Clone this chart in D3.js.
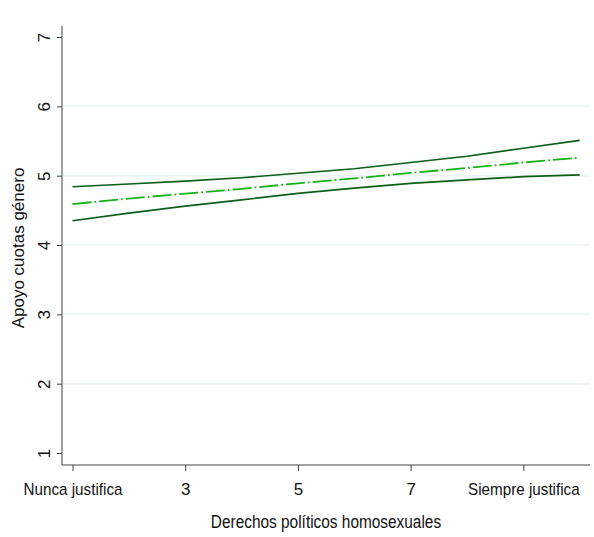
<!DOCTYPE html>
<html>
<head>
<meta charset="utf-8">
<script src="https://cdn.jsdelivr.net/npm/d3@7"></script>
<style>
  html, body { margin: 0; padding: 0; background: #fff; }
  svg { display: block; font-family: "Liberation Sans", Arial, sans-serif; }
</style>
</head>
<body>
<svg id="chart" width="594" height="537"></svg>
<script>
// Predicted support for gender quotas by attitude toward political rights of homosexuals
const xValues = [1, 2, 3, 4, 5, 6, 7, 8, 9, 10];
const predicted = [4.59, 4.67, 4.74, 4.81, 4.89, 4.96, 5.04, 5.11, 5.19, 5.26];
const upperCI = [4.84, 4.88, 4.92, 4.97, 5.035, 5.10, 5.19, 5.28, 5.395, 5.51];
const lowerCI = [4.35, 4.46, 4.56, 4.65, 4.745, 4.82, 4.89, 4.94, 4.985, 5.01];

const xTicks = [1, 3, 5, 7, 9];
const xTickLabels = ["Nunca justifica", "3", "5", "7", "Siempre justifica"];
const yTicks = [1, 2, 3, 4, 5, 6, 7];
const yGrid = [2, 3, 4, 5, 6];

const xTitle = "Derechos políticos homosexuales";
const yTitle = "Apoyo cuotas género";

const svg = d3.select("#chart");

const plot = { left: 62, right: 590, top: 26, bottom: 465 };

const x = d3.scaleLinear().domain([1, 10]).range([72.5, 579.7]);
const y = d3.scaleLinear().domain([1, 7]).range([453, 37]);

// grid lines
svg.append("g")
  .selectAll("line")
  .data(yGrid)
  .join("line")
  .attr("x1", plot.left + 1)
  .attr("x2", plot.right)
  .attr("y1", d => y(d))
  .attr("y2", d => y(d))
  .attr("stroke", "#eaf2f3")
  .attr("stroke-width", 1.5);

// y axis
const yAxis = svg.append("g")
  .attr("transform", `translate(${plot.left},0)`)
  .call(d3.axisLeft(y).tickValues(yTicks).tickSize(5).tickPadding(7).tickFormat(d3.format("d")));
yAxis.select(".domain").attr("d", `M0,${plot.top}V${plot.bottom}`).attr("stroke", "#444");
yAxis.selectAll(".tick line").attr("stroke", "#444");
yAxis.selectAll(".tick text")
  .attr("font-size", 17)
  .attr("fill", "#111")
  .attr("x", null).attr("dy", null)
  .attr("text-anchor", "middle")
  .attr("transform", "translate(-12,0) rotate(-90)");

// x axis
const xAxis = svg.append("g")
  .attr("transform", `translate(0,${plot.bottom})`)
  .call(d3.axisBottom(x).tickValues(xTicks).tickSize(6).tickPadding(8)
    .tickFormat((d, i) => xTickLabels[i]));
xAxis.select(".domain").attr("d", `M${plot.left},0H${plot.right}`).attr("stroke", "#444");
xAxis.selectAll(".tick line").attr("stroke", "#444");
xAxis.selectAll(".tick text")
  .attr("font-size", 17)
  .attr("fill", "#111")
  .attr("dy", null)
  .attr("y", 30)
  .each(function () {
    const w = this.getComputedTextLength();
    if (w > 20) {
      d3.select(this).attr("textLength", w * 0.895).attr("lengthAdjust", "spacingAndGlyphs");
    }
  });

// axis titles
const xt = svg.append("text")
  .attr("x", (plot.left + plot.right) / 2)
  .attr("y", 528)
  .attr("text-anchor", "middle")
  .attr("font-size", 17.5)
  .attr("fill", "#111")
  .text(xTitle);
xt.attr("textLength", xt.node().getComputedTextLength() * 0.88).attr("lengthAdjust", "spacingAndGlyphs");

svg.append("text")
  .attr("transform", `translate(24,248) rotate(-90)`)
  .attr("text-anchor", "middle")
  .attr("font-size", 17)
  .attr("fill", "#111")
  .text(yTitle);

// lines
const line = d3.line().x((d, i) => x(xValues[i])).y(d => y(d));

svg.append("path")
  .datum(upperCI)
  .attr("d", line)
  .attr("fill", "none")
  .attr("stroke", "#0b5e16")
  .attr("stroke-width", 1.7);

svg.append("path")
  .datum(lowerCI)
  .attr("d", line)
  .attr("fill", "none")
  .attr("stroke", "#0b5e16")
  .attr("stroke-width", 1.7);

svg.append("path")
  .datum(predicted)
  .attr("d", line)
  .attr("fill", "none")
  .attr("stroke", "#16b316")
  .attr("stroke-width", 1.8)
  .attr("stroke-dasharray", "19,3,1.8,3");
</script>
</body>
</html>
